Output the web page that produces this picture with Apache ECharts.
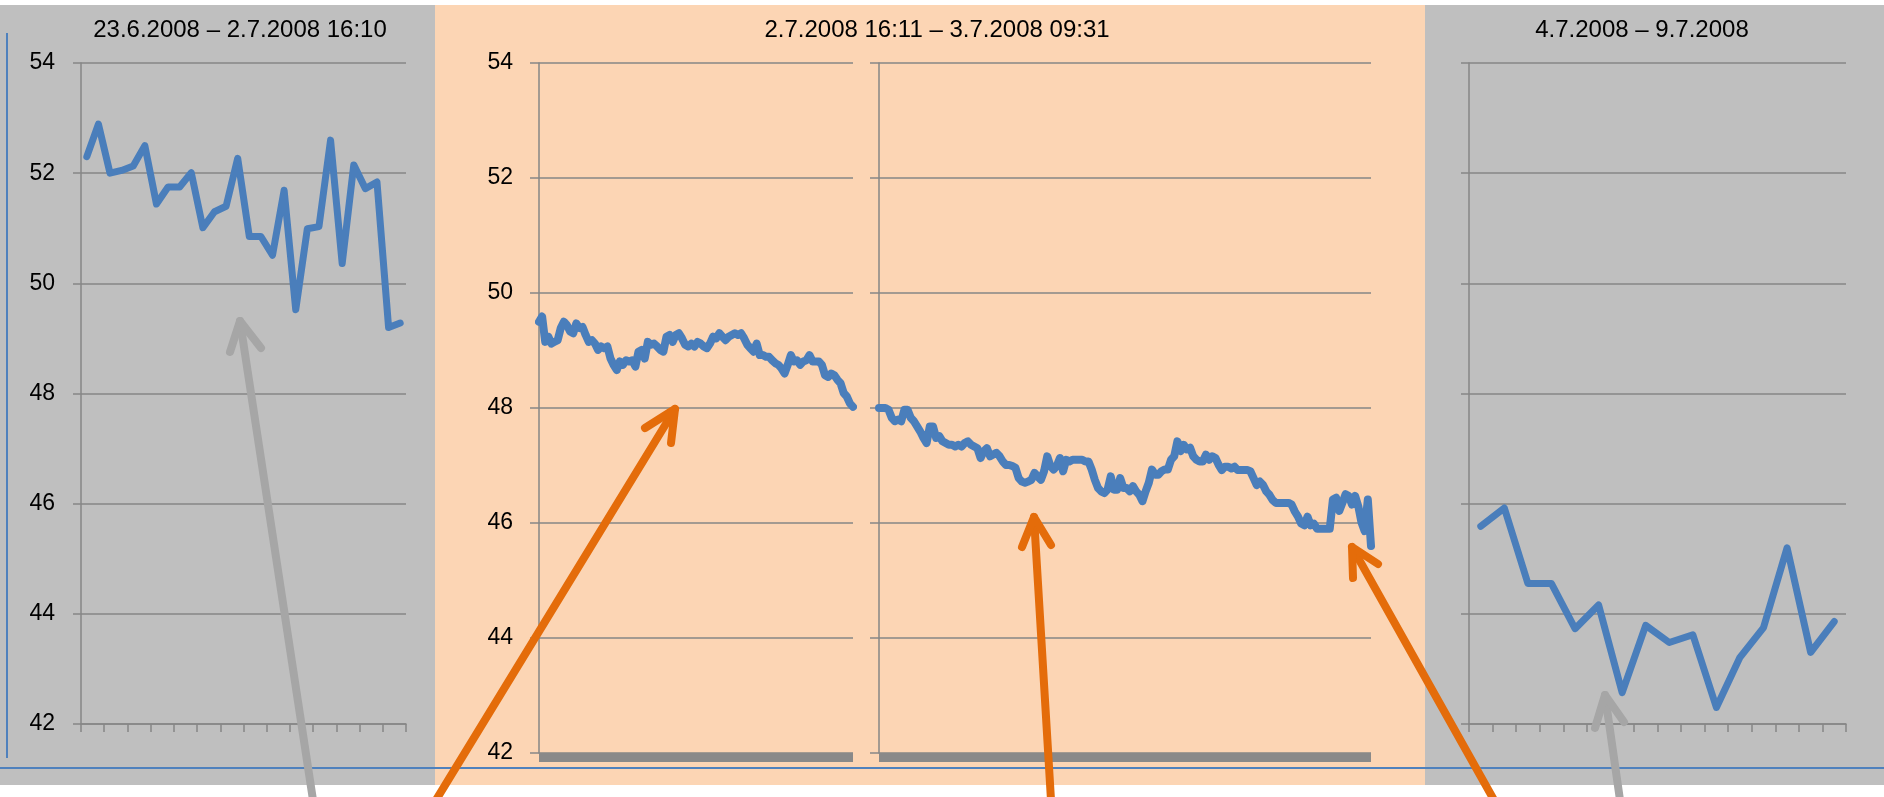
<!DOCTYPE html>
<html>
<head>
<meta charset="utf-8">
<script src="https://cdn.jsdelivr.net/npm/echarts@6/dist/echarts.min.js"></script>
<style>
  html, body { margin: 0; padding: 0; background: #fff; }
  #chart { width: 1884px; height: 797px; }
</style>
</head>
<body>
<div id="chart"></div>
<script>
// titles of the three periods
const titleBefore = '23.6.2008 – 2.7.2008 16:10';
const titleDuring = '2.7.2008 16:11 – 3.7.2008 09:31';
const titleAfter = '4.7.2008 – 9.7.2008';

// y axis (same for every panel)
const yMin = 42;
const yMax = 54;
const yStep = 2;

// 23.6. - 2.7.2008
const beforeValues = [
  52.30, 52.89, 52.00, 52.05, 52.13, 52.50, 51.44, 51.75, 51.75, 52.01,
  51.01, 51.30, 51.40, 52.27, 50.85, 50.85, 50.51, 51.69, 49.52, 50.99,
  51.03, 52.60, 50.36, 52.15, 51.72, 51.84, 49.20, 49.28
];

// 2.7.2008 16:11 - ... (first half)
const duringValuesA = [
  49.50, 49.59, 49.15, 49.24, 49.12, 49.15, 49.18, 49.39, 49.50, 49.44,
  49.33, 49.30, 49.47, 49.39, 49.41, 49.27, 49.15, 49.18, 49.12, 49.01,
  49.07, 49.04, 49.07, 48.86, 48.75, 48.66, 48.81, 48.75, 48.83, 48.81,
  48.83, 48.72, 48.98, 49.01, 48.86, 49.15, 49.10, 49.12, 49.07, 49.01,
  48.98, 49.24, 49.27, 49.15, 49.27, 49.30, 49.21, 49.10, 49.07, 49.12,
  49.07, 49.15,
  49.12, 49.07, 49.04, 49.12, 49.24, 49.21, 49.30, 49.24, 49.18, 49.24,
  49.27, 49.30, 49.27, 49.30, 49.21, 49.10, 49.04, 48.98, 49.12, 48.92,
  48.92, 48.89, 48.89, 48.83, 48.78, 48.75, 48.69, 48.60, 48.75, 48.92,
  48.81, 48.83, 48.75, 48.81, 48.83, 48.92, 48.81, 48.81, 48.81, 48.75,
  48.57, 48.54, 48.60, 48.57, 48.49, 48.43, 48.26, 48.20, 48.08, 48.02
];

// ... - 3.7.2008 09:31 (second half)
const duringValuesB = [
  48.00, 48.00, 48.00, 47.97, 47.83, 47.77, 47.80, 47.77, 47.97, 47.97,
  47.83, 47.77, 47.68, 47.59, 47.48, 47.39, 47.68, 47.68, 47.48, 47.51,
  47.42, 47.39, 47.36, 47.36, 47.33, 47.36, 47.33, 47.39, 47.42, 47.36,
  47.33, 47.30, 47.13, 47.25, 47.30, 47.16, 47.19, 47.22, 47.16, 47.07,
  47.01, 47.01, 46.99, 46.96, 46.78, 46.72, 46.70, 46.72, 46.75, 46.87,
  46.81, 46.75, 46.90, 47.16, 46.99, 46.93, 46.99, 47.13, 46.90, 47.10,
  47.07, 47.10, 47.10, 47.10, 47.10, 47.07, 47.07, 46.93, 46.75, 46.61,
  46.55, 46.52, 46.58, 46.81, 46.58, 46.58, 46.78, 46.61, 46.61, 46.55,
  46.64, 46.55, 46.49, 46.38, 46.55, 46.70, 46.93, 46.84, 46.84, 46.90,
  46.93, 46.93, 47.10, 47.16, 47.42, 47.25, 47.36, 47.28, 47.31, 47.16,
  47.10, 47.07, 47.07, 47.19, 47.10, 47.16, 47.13, 47.01, 46.92, 46.98,
  46.98, 46.95, 46.98, 46.92, 46.92, 46.92, 46.92, 46.90, 46.78, 46.66,
  46.72, 46.66, 46.55, 46.49, 46.40, 46.35, 46.35, 46.35, 46.35, 46.35,
  46.32, 46.20, 46.11, 45.99, 45.96, 46.11, 45.96, 45.99, 45.90, 45.90,
  45.90, 45.90, 45.90,
  46.41, 46.44, 46.21, 46.35, 46.50, 46.47, 46.32, 46.47, 46.29, 46.01,
  45.86, 46.41, 45.60
];

// 4.7. - 9.7.2008
const afterValues = [
  45.59, 45.92, 44.55, 44.55, 43.73, 44.16, 42.57, 43.79, 43.48, 43.62,
  42.30, 43.21, 43.75, 45.20, 43.30, 43.86
];

const FONT = '"Liberation Sans", Arial, sans-serif';
const GRID_COLOR = '#868686';
const LINE_COLOR = '#4a7ebb';
const GRAY_BG = '#bfbfbf';
const ORANGE_BG = '#fcd5b4';
const ORANGE = '#e46c0a';
const GRAY_ARROW = '#a6a6a6';

const chart = echarts.init(document.getElementById('chart'));

const idx = arr => arr.map((v, i) => i);

function yAxisFor(gridIndex, showLabels, tickLen) {
  return {
    type: 'value',
    gridIndex: gridIndex,
    min: yMin,
    max: yMax,
    interval: yStep,
    axisLine: { show: true, lineStyle: { color: GRID_COLOR, width: 1.5 } },
    axisTick: { show: true, length: tickLen, lineStyle: { color: GRID_COLOR, width: 1.5 } },
    axisLabel: { show: showLabels, color: '#000', fontSize: 23, fontFamily: FONT, margin: 26 },
    splitLine: { show: true, lineStyle: { color: GRID_COLOR, width: 1.5 } }
  };
}

function dailyXAxis(gridIndex, data, tickInterval) {
  return {
    type: 'category',
    gridIndex: gridIndex,
    data: data,
    boundaryGap: true,
    axisLine: { show: true, lineStyle: { color: GRID_COLOR, width: 1.5 } },
    axisTick: { show: true, interval: tickInterval, length: 8, lineStyle: { color: GRID_COLOR, width: 1.5 } },
    axisLabel: { show: false },
    splitLine: { show: false }
  };
}

function denseXAxis(gridIndex, data) {
  return {
    type: 'category',
    gridIndex: gridIndex,
    data: data,
    boundaryGap: false,
    offset: 4.5,
    axisLine: { show: true, lineStyle: { color: '#898989', width: 9, cap: 'butt' } },
    axisTick: { show: false },
    axisLabel: { show: false },
    splitLine: { show: false }
  };
}

function lineSeries(i, values, width) {
  return {
    type: 'line',
    xAxisIndex: i,
    yAxisIndex: i,
    data: values,
    symbol: 'none',
    smooth: false,
    lineStyle: { color: LINE_COLOR, width: width, join: 'round', cap: 'round' },
    z: 5
  };
}

function arrow(color, tail, tip, barbA, barbB) {
  const style = { stroke: color, lineWidth: 8, fill: 'none', lineCap: 'round', lineJoin: 'round' };
  return [
    { type: 'polyline', z: 100, shape: { points: [tail, tip] }, style: Object.assign({}, style) },
    { type: 'polyline', z: 100, shape: { points: [barbA, tip, barbB] }, style: Object.assign({}, style) }
  ];
}

function titleText(x, text) {
  return {
    type: 'text', z: 50, x: x, y: 30,
    style: { text: text, fill: '#000', font: '24px ' + FONT, textAlign: 'center', textVerticalAlign: 'middle' }
  };
}

const option = {
  animation: false,
  backgroundColor: '#fff',
  grid: [
    { left: 81, top: 63, width: 325, height: 661 },
    { left: 539, top: 63, width: 314, height: 690 },
    { left: 879, top: 63, width: 492, height: 690 },
    { left: 1469, top: 63, width: 377, height: 661 }
  ],
  xAxis: [
    dailyXAxis(0, idx(beforeValues), 1),
    denseXAxis(1, idx(duringValuesA)),
    denseXAxis(2, idx(duringValuesB)),
    dailyXAxis(3, idx(afterValues), 0)
  ],
  yAxis: [
    yAxisFor(0, true, 8),
    yAxisFor(1, true, 9),
    yAxisFor(2, false, 9),
    yAxisFor(3, false, 8)
  ],
  series: [
    lineSeries(0, beforeValues, 7),
    lineSeries(1, duringValuesA, 8),
    lineSeries(2, duringValuesB, 8),
    lineSeries(3, afterValues, 7)
  ],
  graphic: [
    // panel backgrounds
    { type: 'rect', z: -10, shape: { x: 0, y: 5, width: 435, height: 780 }, style: { fill: GRAY_BG } },
    { type: 'rect', z: -10, shape: { x: 435, y: 5, width: 990, height: 780 }, style: { fill: ORANGE_BG } },
    { type: 'rect', z: -10, shape: { x: 1425, y: 5, width: 459, height: 780 }, style: { fill: GRAY_BG } },
    // blue guide lines
    { type: 'line', z: 10, shape: { x1: 7, y1: 33, x2: 7, y2: 758 }, style: { stroke: '#4f81bd', lineWidth: 2 } },
    { type: 'line', z: 10, shape: { x1: 0, y1: 768, x2: 1884, y2: 768 }, style: { stroke: '#4f81bd', lineWidth: 2 } },
    titleText(240, titleBefore),
    titleText(937, titleDuring),
    titleText(1642, titleAfter),
    ...arrow(GRAY_ARROW, [313, 800], [240, 321], [230, 352], [261, 348]),
    ...arrow(ORANGE, [436, 800], [675, 409], [645, 428], [671, 443]),
    ...arrow(ORANGE, [1051, 800], [1034, 517], [1022, 547], [1051, 545]),
    ...arrow(ORANGE, [1494, 800], [1352, 547], [1353, 578], [1378, 564]),
    ...arrow(GRAY_ARROW, [1620, 800], [1605, 695], [1595, 728], [1624, 722])
  ]
};

chart.setOption(option);
window.addEventListener('resize', () => chart.resize());
</script>
</body>
</html>
